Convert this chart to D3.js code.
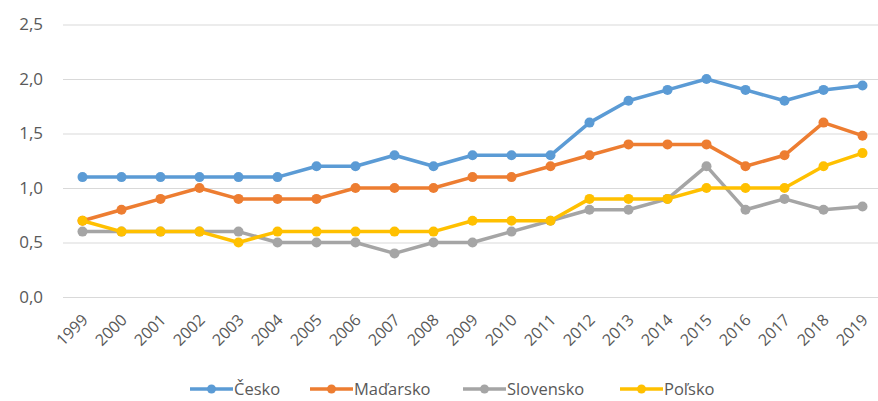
<!DOCTYPE html>
<html>
<head>
<meta charset="utf-8">
<script src="https://cdn.jsdelivr.net/npm/d3@7"></script>
<style>
  html, body { margin: 0; padding: 0; background: #fff; }
  svg { display: block; }
  text { font-family: "Open Sans", "Noto Sans", sans-serif; fill: #595959; }
</style>
</head>
<body>
<svg id="chart" width="878" height="401"></svg>
<script>
const years = ["1999","2000","2001","2002","2003","2004","2005","2006","2007","2008","2009","2010","2011","2012","2013","2014","2015","2016","2017","2018","2019"];
const cesko     = [1.1,1.1,1.1,1.1,1.1,1.1,1.2,1.2,1.3,1.2,1.3,1.3,1.3,1.6,1.8,1.9,2.0,1.9,1.8,1.9,1.94];
const madarsko  = [0.7,0.8,0.9,1.0,0.9,0.9,0.9,1.0,1.0,1.0,1.1,1.1,1.2,1.3,1.4,1.4,1.4,1.2,1.3,1.6,1.48];
const slovensko = [0.6,0.6,0.6,0.6,0.6,0.5,0.5,0.5,0.4,0.5,0.5,0.6,0.7,0.8,0.8,0.9,1.2,0.8,0.9,0.8,0.83];
const polsko    = [0.7,0.6,0.6,0.6,0.5,0.6,0.6,0.6,0.6,0.6,0.7,0.7,0.7,0.9,0.9,0.9,1.0,1.0,1.0,1.2,1.32];
const seriesNames = ["Česko","Maďarsko","Slovensko","Poľsko"];
const seriesColors = ["#5B9BD5","#ED7D31","#A5A5A5","#FFC000"];
const yTicks = [0,0.5,1.0,1.5,2.0,2.5];

const series = [cesko, madarsko, slovensko, polsko].map((v,i)=>({name:seriesNames[i], color:seriesColors[i], values:v}));

const svg = d3.select("#chart");
const x = d3.scalePoint().domain(years).range([63, 882]).padding(0.5);
const y = d3.scaleLinear().domain([0, 2.5]).range([297, 24.5]);
const fmt = d => d.toFixed(1).replace(".", ",");

// gridlines
const yAxis = d3.axisLeft(y).tickValues(yTicks).tickSize(-(878-63)).tickFormat(fmt).tickPadding(20);
const gy = svg.append("g").attr("transform","translate(63,0)").call(yAxis);
gy.select(".domain").remove();
gy.selectAll(".tick line").attr("stroke","#d9d9d9").attr("stroke-width",1);
gy.selectAll(".tick text").attr("font-size","17px").attr("fill","#595959").attr("x",-20);

// x axis labels
const xAxis = d3.axisBottom(x).tickSize(0).tickPadding(0);
const gx = svg.append("g").attr("transform","translate(0,297)").call(xAxis);
gx.select(".domain").remove();
gx.selectAll(".tick text")
  .attr("font-size","16px").attr("fill","#595959")
  .attr("text-anchor","end")
  .attr("dy","0.35em")
  .attr("transform","translate(2,20) rotate(-45)")
  .attr("y",0).attr("x",0);

// lines
const line = d3.line().x((d,i)=>x(years[i])).y(d=>y(d));
series.forEach(s => {
  const g = svg.append("g");
  g.append("path").datum(s.values).attr("d", line)
    .attr("fill","none").attr("stroke", s.color).attr("stroke-width",3.5)
    .attr("stroke-linejoin","round").attr("stroke-linecap","round");
  g.selectAll("circle").data(s.values).join("circle")
    .attr("cx",(d,i)=>x(years[i])).attr("cy",d=>y(d)).attr("r",5)
    .attr("fill", s.color);
});

// legend
const legendX = [190, 310, 463, 620];
const lg = svg.append("g");
series.forEach((s,i) => {
  const gx0 = legendX[i];
  const g = lg.append("g").attr("transform",`translate(${gx0},389)`);
  g.append("line").attr("x1",0).attr("x2",43).attr("y1",0).attr("y2",0)
    .attr("stroke", s.color).attr("stroke-width",3.5);
  g.append("circle").attr("cx",21.5).attr("cy",0).attr("r",4.5).attr("fill",s.color);
  g.append("text").attr("x",44).attr("y",0).attr("dy","0.35em")
    .attr("font-size","16.5px").text(s.name);
});
</script>
</body>
</html>
